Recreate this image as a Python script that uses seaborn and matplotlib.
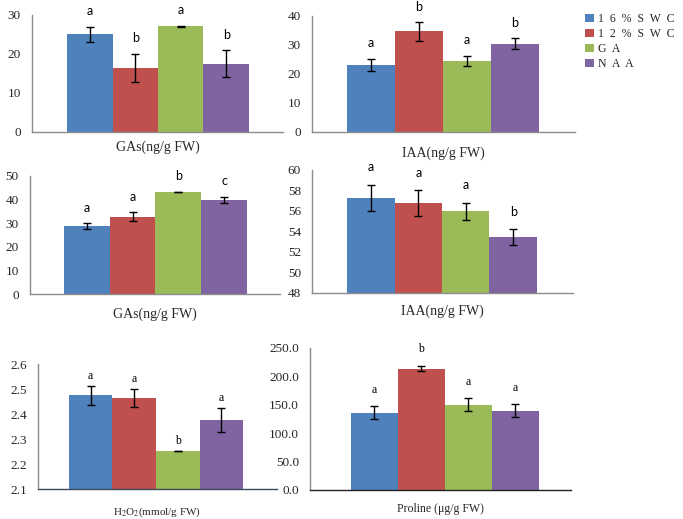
import numpy as np
import pandas as pd
import matplotlib
matplotlib.use("Agg")
import matplotlib.pyplot as plt
from matplotlib.patches import Patch
import seaborn as sns

# ---------------- data ----------------
treatments = ["16%SWC", "12%SWC", "GA", "NAA"]
legend_labels = ["1  6  %  S  W  C", "1  2  %  S  W  C", "G  A", "N  A  A"]
colors = ["#4F81BD", "#C0504D", "#9BBB59", "#8064A2"]

gas1_mean = [25.0, 16.5, 27.1, 17.5]
gas1_err = [2.0, 3.6, 0.15, 3.4]
gas1_sig = ["a", "b", "a", "b"]

iaa1_mean = [23.1, 34.7, 24.5, 30.5]
iaa1_err = [2.2, 3.2, 1.8, 1.9]
iaa1_sig = ["a", "b", "a", "b"]

gas2_mean = [28.7, 32.8, 43.2, 40.0]
gas2_err = [1.2, 1.8, 0.15, 1.3]
gas2_sig = ["a", "a", "b", "c"]

iaa2_mean = [57.25, 56.8, 55.95, 53.45]
iaa2_err = [1.3, 1.25, 0.87, 0.8]
iaa2_sig = ["a", "a", "a", "b"]

h2o2_mean = [2.475, 2.464, 2.252, 2.376]
h2o2_err = [0.038, 0.036, 0.0, 0.048]
h2o2_sig = ["a", "a", "b", "a"]

pro_mean = [136.4, 213.7, 150.5, 139.9]
pro_err = [10.8, 4.4, 10.8, 11.0]
pro_sig = ["a", "b", "a", "a"]

sns.set_theme(style="white")
plt.rcParams["font.family"] = ["Liberation Serif", "DejaVu Serif"]
plt.rcParams["mathtext.fontset"] = "stix"

fig = plt.figure(figsize=(6.83, 5.19), dpi=100)

panels = [
    dict(rect=[0.0469, 0.7457, 0.3675, 0.2254], mean=gas1_mean, err=gas1_err, sig=gas1_sig,
         ylim=(0, 30), ticks=np.arange(0, 31, 10), fmt="{:.0f}", label="GAs(ng/g FW)",
         xlim=(-1.27, 4.25), pad=6, lsize=10, lfont="Lato", lts=9, loff=11, bcol="#8c8c8c"),
    dict(rect=[0.4568, 0.7457, 0.3850, 0.2235], mean=iaa1_mean, err=iaa1_err, sig=iaa1_sig,
         ylim=(0, 40), ticks=np.arange(0, 41, 10), fmt="{:.0f}", label="IAA(ng/g FW)",
         xlim=(-1.23, 4.25), pad=10.5, lsize=10, lfont="Lato", lts=9, loff=11, bcol="#8c8c8c"),
    dict(rect=[0.0439, 0.4335, 0.3660, 0.2274], mean=gas2_mean, err=gas2_err, sig=gas2_sig,
         ylim=(0, 50), ticks=np.arange(0, 51, 10), fmt="{:.0f}", label="GAs(ng/g FW)",
         xlim=(-1.24, 4.22), pad=10, lsize=10, lfont="Lato", lts=9, loff=11, bcol="#8c8c8c"),
    dict(rect=[0.4568, 0.4355, 0.3820, 0.2370], mean=iaa2_mean, err=iaa2_err, sig=iaa2_sig,
         ylim=(48, 60), ticks=np.arange(48, 61, 2), fmt="{:.0f}", label="IAA(ng/g FW)",
         xlim=(-1.24, 4.26), pad=8.5, lsize=10, lfont="Lato", lts=9, loff=12.5, bcol="#8c8c8c"),
    dict(rect=[0.0556, 0.0578, 0.3500, 0.2408], mean=h2o2_mean, err=h2o2_err, sig=h2o2_sig,
         ylim=(2.1, 2.6), ticks=np.arange(2.1, 2.61, 0.1), fmt="{:.1f}", label="H$_2$O$_2$(mmol/g FW)",
         xlim=(-1.21, 4.28), pad=12, lsize=8, lfont="Liberation Serif", lts=8.5, loff=7, bcol="#3d4a5a"),
    dict(rect=[0.4539, 0.0559, 0.3820, 0.2736], mean=pro_mean, err=pro_err, sig=pro_sig,
         ylim=(0, 250), ticks=np.arange(0, 251, 50), fmt="{:.1f}", label="Proline (\u03bcg/g FW)",
         xlim=(-1.37, 4.18), pad=9.5, lsize=8.5, lfont="Liberation Serif", lts=8.5, loff=12, bcol="#222222"),
]

for p in panels:
    ax = fig.add_axes(p["rect"])
    df = pd.DataFrame({"treatment": treatments, "value": p["mean"], "err": p["err"]})
    sns.barplot(data=df, x="treatment", y="value", hue="treatment", palette=colors,
                order=treatments, hue_order=treatments, width=1.0, errorbar=None,
                saturation=1, legend=False, linewidth=0, ax=ax)
    xpos = np.arange(len(treatments))
    ax.errorbar(xpos, df["value"], yerr=df["err"], fmt="none", ecolor="black",
                elinewidth=1.0, capsize=2.6, capthick=1.0, zorder=5)
    for xi, v, e, s in zip(xpos, df["value"], df["err"], p["sig"]):
        ax.annotate(s, xy=(xi, v + e), xytext=(0, p["loff"]), textcoords="offset points",
                    ha="center", va="center", fontsize=p["lts"], family=p["lfont"],
                    color="black", annotation_clip=False)
    ax.set_ylim(*p["ylim"])
    ax.set_xlim(*p["xlim"])
    ax.set_yticks(p["ticks"])
    ax.set_yticklabels([p["fmt"].format(t) for t in p["ticks"]])
    ax.set_xticks([])
    ax.set_ylabel("")
    ax.set_xlabel(p["label"], fontsize=p["lsize"], labelpad=p["pad"])
    for side in ["top", "right"]:
        ax.spines[side].set_visible(False)
    ax.spines["left"].set_color("#8c8c8c")
    ax.spines["bottom"].set_color(p["bcol"])
    ax.spines["left"].set_linewidth(1.0)
    ax.spines["bottom"].set_linewidth(1.0)
    ax.tick_params(axis="y", direction="in", length=3, width=0.8, color="#8c8c8c",
                   pad=8, labelsize=9.5)
    ax.patch.set_alpha(0)

handles = [Patch(facecolor=c, edgecolor="none") for c in colors]
fig.legend(handles, legend_labels, loc="upper left", bbox_to_anchor=(0.845, 0.99),
           frameon=False, fontsize=8.5, handlelength=0.7, handleheight=0.7,
           handletextpad=0.4, labelspacing=0.25, borderpad=0.2)

fig.savefig("out.png", dpi=100)
